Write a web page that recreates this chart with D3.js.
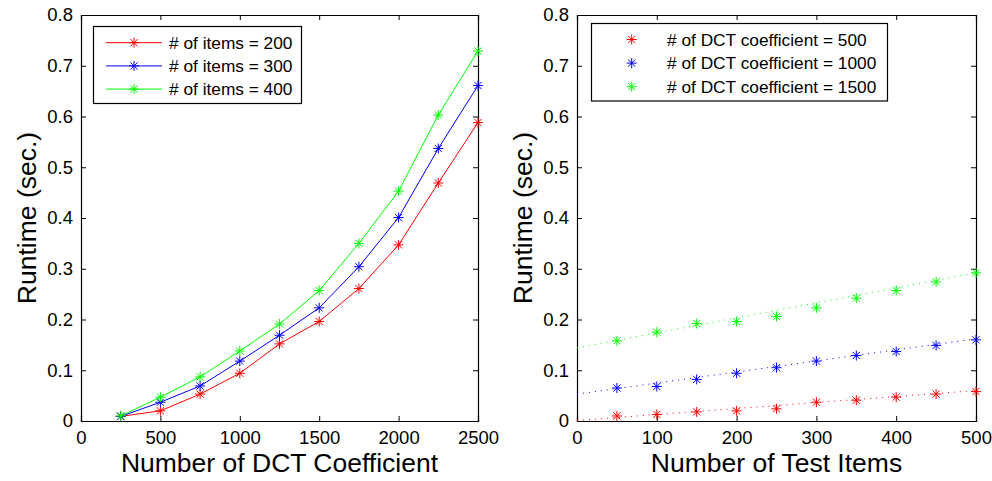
<!DOCTYPE html>
<meta charset="utf-8">
<style>
body { margin: 0; background: #fff; }
text { font-family: "Liberation Sans", Arial, sans-serif; fill: #000; }
.tick text { font-size: 18.5px; }
.axis-label { font-size: 26.5px; }
.legend text { font-size: 17.3px; }
</style>
<svg width="992" height="481"></svg>
<script src="https://d3js.org/d3.v7.min.js"></script>
<script>

// left panel: runtime vs number of DCT coefficients
var coeffs = [250, 500, 750, 1000, 1250, 1500, 1750, 2000, 2250, 2500];
var items200 = [0.009, 0.020, 0.053, 0.094, 0.152, 0.196, 0.261, 0.347, 0.469, 0.588];
var items300 = [0.009, 0.037, 0.069, 0.118, 0.169, 0.223, 0.304, 0.401, 0.537, 0.661];
var items400 = [0.010, 0.047, 0.087, 0.138, 0.191, 0.257, 0.350, 0.453, 0.603, 0.729];
var leftNames = ["# of items = 200", "# of items = 300", "# of items = 400"];

// right panel: runtime vs number of test items
var testItems = [50, 100, 150, 200, 250, 300, 350, 400, 450, 500];
var coef500 = [0.010, 0.013, 0.018, 0.020, 0.024, 0.037, 0.041, 0.047, 0.053, 0.058];
var coef1000 = [0.065, 0.068, 0.082, 0.094, 0.105, 0.118, 0.129, 0.137, 0.149, 0.160];
var coef1500 = [0.158, 0.175, 0.192, 0.196, 0.206, 0.223, 0.242, 0.257, 0.274, 0.292];
// dotted fit lines: value at x = 0 and x = 500
var fitStart = [0.001, 0.053, 0.144];
var fitEnd = [0.060, 0.162, 0.292];
var rightNames = ["# of DCT coefficient = 500", "# of DCT coefficient = 1000", "# of DCT coefficient = 1500"];

var colors = ["#ff0000", "#0000ff", "#00ff00"];
var yTicks = [0, 0.1, 0.2, 0.3, 0.4, 0.5, 0.6, 0.7, 0.8];

var svg = d3.select("svg");

function star(sel, x, y, color) {
  var r = 5, d = 3.6;
  sel.append("path")
      .attr("d", "M" + (x - r) + "," + y + "h" + 2 * r +
                 "M" + x + "," + (y - r) + "v" + 2 * r +
                 "M" + (x - d) + "," + (y - d) + "l" + 2 * d + "," + 2 * d +
                 "M" + (x - d) + "," + (y + d) + "l" + 2 * d + "," + (-2 * d))
      .attr("stroke", color)
      .attr("stroke-width", 1)
      .attr("fill", "none");
}

function panel(left, right, xDomain, xTicks, xLabel) {
  var top = 15, bottom = 421;
  var x = d3.scaleLinear().domain(xDomain).range([left, right]);
  var y = d3.scaleLinear().domain([0, 0.8]).range([bottom, top]);
  var g = svg.append("g");

  g.append("g")
      .attr("class", "axis")
      .attr("transform", "translate(0," + bottom + ")")
      .call(d3.axisBottom(x).tickValues(xTicks).tickSize(-5).tickPadding(10).tickFormat(d3.format("d")));
  g.append("g")
      .attr("transform", "translate(0," + top + ")")
      .call(d3.axisTop(x).tickValues(xTicks).tickSize(-5).tickFormat(""));
  g.append("g")
      .attr("class", "axis")
      .attr("transform", "translate(" + left + ",0)")
      .call(d3.axisLeft(y).tickValues(yTicks).tickSize(-5).tickPadding(8).tickFormat(function(d) { return d === 0 ? "0" : d3.format(".1f")(d); }));
  g.append("g")
      .attr("transform", "translate(" + right + ",0)")
      .call(d3.axisRight(y).tickValues(yTicks).tickSize(-5).tickFormat(""));

  g.selectAll(".domain").attr("stroke", "#000").attr("stroke-width", 1.2);
  g.selectAll(".tick line").attr("stroke", "#000");
  g.selectAll(".tick text").attr("fill", "#000");

  g.append("text")
      .attr("class", "axis-label")
      .attr("x", (left + right) / 2)
      .attr("y", 472)
      .attr("text-anchor", "middle")
      .text(xLabel);
  g.append("text")
      .attr("class", "axis-label")
      .attr("transform", "translate(" + (left - 45) + "," + ((top + bottom) / 2) + ") rotate(-90)")
      .attr("text-anchor", "middle")
      .text("Runtime (sec.)");

  return { g: g, x: x, y: y };
}

// ---- left panel
var L = panel(81, 478, [0, 2500], [0, 500, 1000, 1500, 2000, 2500], "Number of DCT Coefficient");
var line = d3.line().x(function(d) { return L.x(d[0]); }).y(function(d) { return L.y(d[1]); });

[items200, items300, items400].forEach(function(vals, i) {
  var pts = coeffs.map(function(c, j) { return [c, vals[j]]; });
  L.g.append("path")
      .datum(pts)
      .attr("d", line)
      .attr("fill", "none")
      .attr("stroke", colors[i])
      .attr("stroke-width", 1);
  pts.forEach(function(p) { star(L.g, L.x(p[0]), L.y(p[1]), colors[i]); });
});

var lg = L.g.append("g").attr("class", "legend");
lg.append("rect")
    .attr("x", 93.5).attr("y", 26.5).attr("width", 208).attr("height", 77)
    .attr("fill", "#fff").attr("stroke", "#000").attr("stroke-width", 1.2);
leftNames.forEach(function(name, i) {
  var yy = 42.7 + i * 23.2;
  lg.append("line")
      .attr("x1", 106).attr("x2", 162).attr("y1", yy).attr("y2", yy)
      .attr("stroke", colors[i]).attr("stroke-width", 1);
  star(lg, 134, yy, colors[i]);
  lg.append("text").attr("x", 169).attr("y", yy).attr("dy", "0.35em").text(name);
});

// ---- right panel
var R = panel(577, 976, [0, 500], [0, 100, 200, 300, 400, 500], "Number of Test Items");

[coef500, coef1000, coef1500].forEach(function(vals, i) {
  R.g.append("line")
      .attr("x1", R.x(0)).attr("y1", R.y(fitStart[i]))
      .attr("x2", R.x(500)).attr("y2", R.y(fitEnd[i]))
      .attr("stroke", colors[i])
      .attr("stroke-width", 1)
      .attr("stroke-dasharray", "1,5");
  testItems.forEach(function(t, j) { star(R.g, R.x(t), R.y(vals[j]), colors[i]); });
});

var rg = R.g.append("g").attr("class", "legend");
rg.append("rect")
    .attr("x", 591.5).attr("y", 23.5).attr("width", 296).attr("height", 77.5)
    .attr("fill", "#fff").attr("stroke", "#000").attr("stroke-width", 1.2);
rightNames.forEach(function(name, i) {
  var yy = 39.5 + i * 23.6;
  star(rg, 631.7, yy, colors[i]);
  rg.append("text").attr("x", 667).attr("y", yy).attr("dy", "0.35em").text(name);
});

</script>
